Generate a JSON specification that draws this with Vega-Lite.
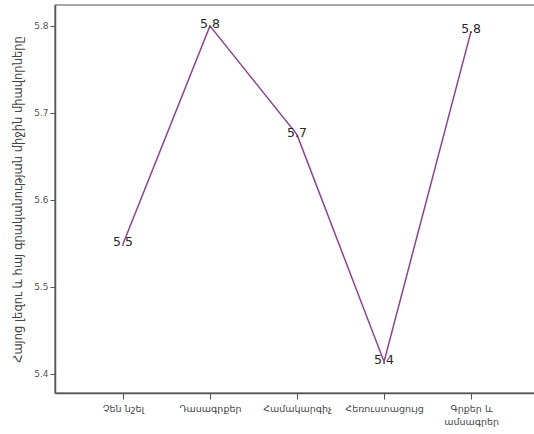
{
  "$schema": "https://vega.github.io/schema/vega-lite/v6.json",
  "autosize": "none",
  "width": 484,
  "height": 388,
  "padding": {"left": 55, "top": 5, "right": 0, "bottom": 41},
  "background": "white",
  "config": {
    "view": {"stroke": "#8a8a8a", "strokeWidth": 1.5},
    "font": "DejaVu Sans"
  },
  "data": {
    "values": [
      {"category": "Չեն նշել", "score": 5.549},
      {"category": "Դասագրքեր", "score": 5.800},
      {"category": "Համակարգիչ", "score": 5.675},
      {"category": "Հեռուստացույց", "score": 5.414},
      {"category": "Գրքեր և ամսագրեր", "score": 5.794}
    ]
  },
  "encoding": {
    "x": {
      "field": "category",
      "type": "nominal",
      "sort": null,
      "scale": {"type": "point", "padding": 0.78, "align": 0.5},
      "axis": {
        "title": null,
        "labelAngle": 0,
        "labelFont": "DejaVu Sans",
        "labelFontSize": 9.5,
        "labelColor": "#444",
        "labelPadding": 4,
        "tickSize": 6,
        "tickColor": "#555",
        "domainColor": "#555",
        "domainWidth": 1.5,
        "labelExpr": "datum.value == 'Գրքեր և ամսագրեր' ? ['Գրքեր և', 'ամսագրեր'] : datum.value",
        "labelLineHeight": 13,
        "grid": false
      }
    },
    "y": {
      "field": "score",
      "type": "quantitative",
      "scale": {"domain": [5.378, 5.824], "nice": false, "zero": false},
      "axis": {
        "title": "Հայոց լեզու և հայ գրականության միջին միավորները",
        "titleFont": "DejaVu Sans",
        "titleFontSize": 11.5,
        "titleFontWeight": "normal",
        "titleColor": "#444",
        "titlePadding": 10,
        "values": [5.4, 5.5, 5.6, 5.7, 5.8],
        "format": ".1f",
        "labelFontSize": 9,
        "labelColor": "#555",
        "labelPadding": 2,
        "tickSize": 5,
        "tickColor": "#555",
        "domainColor": "#555",
        "domainWidth": 1.5,
        "grid": false
      }
    }
  },
  "layer": [
    {
      "mark": {"type": "line", "color": "#8e4096", "strokeWidth": 1.5}
    },
    {
      "mark": {"type": "text", "fontSize": 12.5, "color": "#2a2a2a", "baseline": "middle", "dy": -2, "font": "DejaVu Sans"},
      "encoding": {
        "text": {"field": "score", "type": "quantitative", "format": ".1f"}
      }
    }
  ]
}
